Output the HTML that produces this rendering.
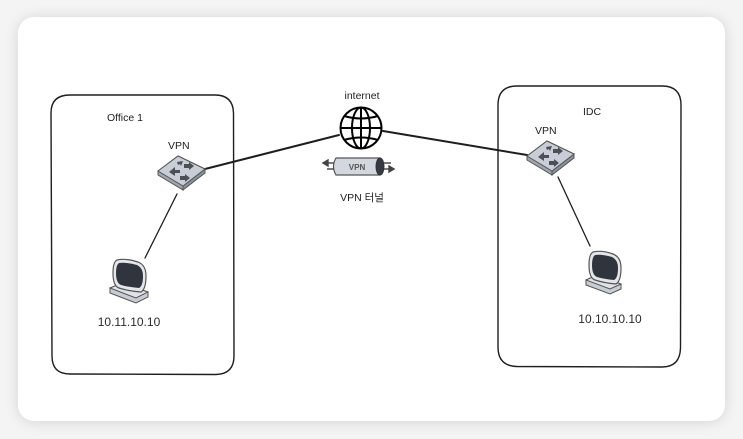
<!DOCTYPE html>
<html>
<head>
<meta charset="utf-8">
<style>
  html,body{margin:0;padding:0;}
  body{width:743px;height:439px;background:#f4f4f4;position:relative;overflow:hidden;font-family:"Liberation Sans","Noto Sans CJK KR",sans-serif;}
  .card{position:absolute;left:18px;top:17px;width:707px;height:404px;background:#fff;border-radius:16px;box-shadow:0 1px 14px rgba(0,0,0,0.13);}
  svg{position:absolute;left:0;top:0;}
</style>
</head>
<body>
<div class="card"></div>
<svg width="743" height="439" viewBox="0 0 743 439" xmlns="http://www.w3.org/2000/svg">
  <g fill="none" stroke="#1e1e1e" stroke-width="1.4" stroke-linecap="round">
    <path d="M70 95 L215 95 Q233 95 233.5 113 L234 356 Q234 374 216 374.5 L70 374 Q52 374 52 356 L51 113 Q51 95 70 95 Z"/>
    <path d="M517 86 L662 86 Q681 86 681 105 L680.5 348 Q680 367 662 367 L517 366.5 Q498 366 498 347 L498 105 Q498 86 517 86 Z"/>
    <path d="M205 169 L339 135" stroke-width="2"/>
    <path d="M383 131 L527 155" stroke-width="2"/>
    <path d="M177 194 L145 258" stroke-width="1.3"/>
    <path d="M558 177 L590 246" stroke-width="1.3"/>
  </g>

  <g font-family="Liberation Sans, sans-serif" fill="#1e1e1e" font-size="10.5">
    <text x="107" y="121">Office 1</text>
    <text x="168" y="149">VPN</text>
    <text x="535" y="134">VPN</text>
    <text x="583" y="115">IDC</text>
    <text x="362" y="99" text-anchor="middle">internet</text>
    <text x="362" y="201" text-anchor="middle" font-family="Liberation Sans, Noto Sans CJK KR, sans-serif">VPN 터널</text>
  </g>
  <g font-family="Liberation Sans, sans-serif" fill="#2a2a2a" font-size="12">
    <text x="129" y="326" text-anchor="middle">10.11.10.10</text>
    <text x="610" y="323" text-anchor="middle">10.10.10.10</text>
  </g>

  <g fill="none" stroke="#000" stroke-width="2">
    <circle cx="361" cy="128" r="20.5"/>
    <ellipse cx="361" cy="128" rx="9" ry="20.5"/>
    <line x1="361" y1="107.5" x2="361" y2="148.5"/>
    <line x1="340.5" y1="128" x2="381.5" y2="128"/>
    <path d="M344 116 Q361 121 378 116"/>
    <path d="M344 140 Q361 135 378 140"/>
  </g>

  <g>
    <path d="M336 158 L380 158 Q385 166.5 380 175 L336 175 Q331 166.5 336 158 Z" fill="#d3d7de" stroke="#555" stroke-width="1.2"/>
    <ellipse cx="380" cy="166.5" rx="4" ry="8.5" fill="#353a44" stroke="#333" stroke-width="1"/>
    <text x="357" y="170" text-anchor="middle" font-family="Liberation Sans, sans-serif" font-size="8" font-weight="bold" fill="#555">VPN</text>
    <g stroke="#444" stroke-width="1.4" fill="#444">
      <line x1="327" y1="163" x2="334" y2="163"/>
      <path d="M323 163 L328 160 L328 166 Z"/>
      <line x1="327" y1="169" x2="334" y2="169"/>
      <line x1="384" y1="163" x2="391" y2="163"/>
      <line x1="384" y1="169" x2="390" y2="169"/>
      <path d="M394 169 L389 166 L389 172 Z"/>
    </g>
  </g>

  <g transform="translate(181,171)">
    <path d="M-23 0 L-3 -15 L24 -2 L2 15 L2 19 L-23 4 Z" fill="#9ea5b0" stroke="#555" stroke-width="1"/>
    <path d="M2 15 L24 -2 L24 2 L2 19 Z" fill="#8a919c" stroke="#555" stroke-width="1"/>
    <path d="M-23 0 L-3 -15 L24 -2 L2 15 Z" fill="#c9ced6" stroke="#555" stroke-width="1"/>
    <g fill="#4a4f58">
      <path d="M-12 1 L-6 -4 L-6 -1 L-1 -1 L-1 2 L-6 2 L-6 5 Z"/>
      <path d="M-4 -9 L2 -10 L0 -5 L-1 -7 L-3 -6 Z"/>
      <path d="M3 -7 L8 -7 L8 -9 L13 -5 L8 -1 L8 -3 L3 -3 Z"/>
      <path d="M-1 5 L4 5 L4 3 L9 7 L4 11 L4 9 L-1 9 Z"/>
    </g>
  </g>
  <g transform="translate(550,156)">
    <path d="M-23 0 L-3 -15 L24 -2 L2 15 L2 19 L-23 4 Z" fill="#9ea5b0" stroke="#555" stroke-width="1"/>
    <path d="M2 15 L24 -2 L24 2 L2 19 Z" fill="#8a919c" stroke="#555" stroke-width="1"/>
    <path d="M-23 0 L-3 -15 L24 -2 L2 15 Z" fill="#c9ced6" stroke="#555" stroke-width="1"/>
    <g fill="#4a4f58">
      <path d="M-12 1 L-6 -4 L-6 -1 L-1 -1 L-1 2 L-6 2 L-6 5 Z"/>
      <path d="M-4 -9 L2 -10 L0 -5 L-1 -7 L-3 -6 Z"/>
      <path d="M3 -7 L8 -7 L8 -9 L13 -5 L8 -1 L8 -3 L3 -3 Z"/>
      <path d="M-1 5 L4 5 L4 3 L9 7 L4 11 L4 9 L-1 9 Z"/>
    </g>
  </g>

  <!-- computer left -->
  <g transform="translate(112,259)">
    <path d="M-2 29 L-2 34 L24 44 L36 38 L36 33 L10 24 Z" fill="#c8ccd3" stroke="#555" stroke-width="1"/>
    <path d="M-2 29 L10 24 L36 33 L24 39 Z" fill="#dfe2e7" stroke="#555" stroke-width="1"/>
    <path d="M5 1 Q14 -1 26 3 Q34 6 34 17 Q34 30 29 33 Q16 32 7 29 Q1 27 1 14 Q1 3 5 1 Z" fill="#e4e6ea" stroke="#555" stroke-width="1.2"/>
    <path d="M7 4 Q14 3 25 6 Q31 9 31 17 Q31 27 27 29 Q16 28 9 26 Q4 24 4 14 Q4 6 7 4 Z" fill="#2f343d"/>
  </g>
  <!-- computer right -->
  <g transform="translate(588,251)">
    <path d="M-2 29 L-2 34 L22 43 L33 38 L33 33 L9 24 Z" fill="#c8ccd3" stroke="#555" stroke-width="1"/>
    <path d="M-2 29 L9 24 L33 33 L22 38 Z" fill="#dfe2e7" stroke="#555" stroke-width="1"/>
    <path d="M5 1 Q14 -1 25 3 Q33 6 33 17 Q33 30 28 33 Q16 32 7 29 Q1 27 1 14 Q1 3 5 1 Z" fill="#e4e6ea" stroke="#555" stroke-width="1.2"/>
    <path d="M7 4 Q14 3 24 6 Q30 9 30 17 Q30 27 26 29 Q16 28 9 26 Q4 24 4 14 Q4 6 7 4 Z" fill="#2f343d"/>
  </g>
</svg>
</body>
</html>
